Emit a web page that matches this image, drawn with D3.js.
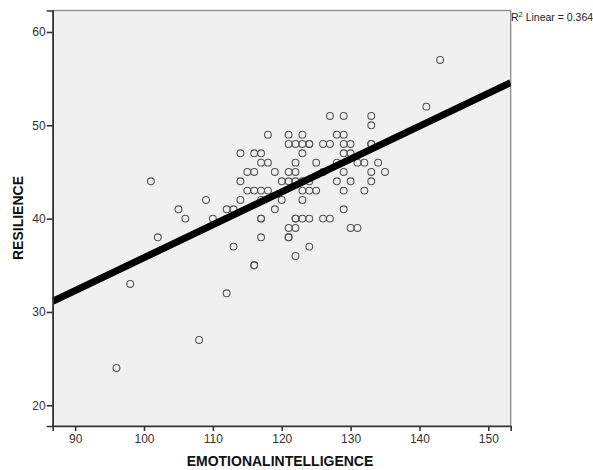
<!DOCTYPE html>
<html>
<head>
<meta charset="utf-8">
<script src="https://cdn.jsdelivr.net/npm/d3@7"></script>
<style>
body { margin: 0; background: #fff; }
text { font-family: "Liberation Sans", Arial, sans-serif; }
</style>
</head>
<body>
<div id="viz"></div>
<script>
// data: [emotional intelligence, resilience]
var eiValues = [143, 141,
	127, 129, 133,
	133,
	118, 121, 123, 128, 129,
	121, 122, 123, 124, 124, 126, 127, 129, 130, 133, 133,
	114, 116, 117, 123, 129, 130,
	117, 118, 122, 125, 128, 131, 132, 134,
	115, 116, 119, 121, 122, 126, 129, 133, 135,
	101, 114, 120, 121, 122, 123, 124, 128, 130, 133,
	115, 116, 117, 118, 123, 124, 125, 129, 132,
	109, 114, 117, 120, 123,
	105, 112, 113, 119, 129,
	106, 110, 117, 117, 122, 122, 123, 124, 126, 127,
	121, 122, 130, 131,
	102, 117, 121, 121,
	113, 124,
	122,
	116, 116,
	98, 112, 108, 96];
var resValues = [57, 52,
	51, 51, 51,
	50,
	49, 49, 49, 49, 49,
	48, 48, 48, 48, 48, 48, 48, 48, 48, 48, 48,
	47, 47, 47, 47, 47, 47,
	46, 46, 46, 46, 46, 46, 46, 46,
	45, 45, 45, 45, 45, 45, 45, 45, 45,
	44, 44, 44, 44, 44, 44, 44, 44, 44, 44,
	43, 43, 43, 43, 43, 43, 43, 43, 43,
	42, 42, 42, 42, 42,
	41, 41, 41, 41, 41,
	40, 40, 40, 40, 40, 40, 40, 40, 40, 40,
	39, 39, 39, 39,
	38, 38, 38, 38,
	37, 37,
	36,
	35, 35,
	33, 32, 27, 24];
var xTicks = [90, 100, 110, 120, 130, 140, 150];
var yTicks = [20, 30, 40, 50, 60];
var fitIntercept = 0.574; // fit line as drawn
var fitSlope = 0.3524;
var r2Label = "0.364";

var W = 593, H = 470;
var plotL = 52.7, plotR = 510.7, plotT = 10.5, plotB = 426;

var svg = d3.select("#viz").append("svg").attr("width", W).attr("height", H);

var x = d3.scaleLinear().domain([86.74, 153.25]).range([plotL, plotR]);
var y = d3.scaleLinear().domain([17.78, 62.3]).range([plotB, plotT]);

//plot background
svg.append("rect")
	.attr("x", plotL).attr("y", plotT)
	.attr("width", plotR - plotL).attr("height", plotB - plotT)
	.attr("fill", "#f0f0f0")
	.attr("stroke", "#8c8c8c").attr("stroke-width", 1.3);

var pts = eiValues.map(function(d, i) { return {ei: d, res: resValues[i]}; });

svg.append("g").selectAll("circle").data(pts).enter().append("circle")
	.attr("cx", function(d) { return x(d.ei); })
	.attr("cy", function(d) { return y(d.res); })
	.attr("r", 3.4)
	.attr("fill", "none")
	.attr("stroke", "#555")
	.attr("stroke-width", 1.1);

// fit line, clipped to plot
svg.append("clipPath").attr("id", "clip").append("rect")
	.attr("x", plotL).attr("y", plotT).attr("width", plotR - plotL).attr("height", plotB - plotT);
var x0 = x.domain()[0], x1 = x.domain()[1];
svg.append("line")
	.attr("clip-path", "url(#clip)")
	.attr("x1", x(x0)).attr("y1", y(fitIntercept + fitSlope * x0))
	.attr("x2", x(x1)).attr("y2", y(fitIntercept + fitSlope * x1))
	.attr("stroke", "#000").attr("stroke-width", 7);

// axes
var xAxis = svg.append("g").attr("transform", "translate(0," + plotB + ")")
	.call(d3.axisBottom(x).tickValues(xTicks).tickSize(5).tickPadding(3).tickFormat(d3.format("d")));
var yAxis = svg.append("g").attr("transform", "translate(" + plotL + ",0)")
	.call(d3.axisLeft(y).tickValues(yTicks).tickSize(6).tickPadding(1).tickFormat(d3.format("d")));
[xAxis, yAxis].forEach(function(a) {
	a.select(".domain").attr("stroke", "#333").attr("stroke-width", 1.6);
	a.selectAll(".tick line").attr("stroke", "#333").attr("stroke-width", 1.6);
	a.selectAll(".tick text").attr("fill", "#333").style("font-size", "12px")
		.style("font-family", "'Liberation Sans', Arial, sans-serif");
});

svg.append("text")
	.attr("x", 280).attr("y", 466)
	.attr("text-anchor", "middle")
	.style("font-size", "14px").style("font-weight", "bold")
	.attr("fill", "#111")
	.text("EMOTIONALINTELLIGENCE");

svg.append("text")
	.attr("transform", "translate(23," + 218 + ") rotate(-90)")
	.attr("text-anchor", "middle")
	.style("font-size", "14px").style("font-weight", "bold")
	.attr("fill", "#111")
	.text("RESILIENCE");

var r2 = svg.append("text").attr("x", 511).attr("y", 21)
	.style("font-size", "10.5px").attr("fill", "#222");
r2.append("tspan").text("R");
r2.append("tspan").attr("dy", -4).style("font-size", "7.5px").text("2");
r2.append("tspan").attr("dy", 4).text(" Linear = " + r2Label);
</script>
</body>
</html>
